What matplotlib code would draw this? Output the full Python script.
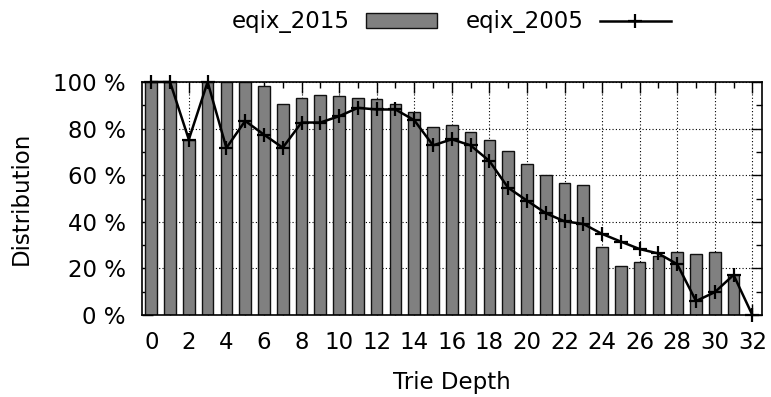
import numpy as np
import matplotlib.pyplot as plt
from matplotlib.ticker import MultipleLocator, FuncFormatter

# trie depth 0..32
depth = list(range(33))

# eqix_2015 distribution (%) per depth
eqix_2015 = [100, 100, 75.3, 100, 100, 100, 98.4, 90.4, 93.0, 94.3,
             94.0, 93.1, 92.8, 90.7, 87.1, 80.5, 81.6, 78.4, 75.0, 70.3,
             65.0, 59.9, 56.5, 55.9, 29.3, 21.1, 22.8, 25.4, 27.0, 26.3,
             26.9, 17.2, 0.0]

# eqix_2005 distribution (%) per depth
eqix_2005 = [100, 100, 75.3, 100, 71.7, 83.3, 77.4, 71.8, 82.6, 82.6,
             85.3, 88.9, 88.2, 88.2, 83.6, 72.8, 75.4, 72.8, 66.1, 54.6,
             49.1, 43.7, 40.2, 39.1, 34.8, 31.5, 28.3, 26.4, 21.8, 6.0,
             9.8, 17.2, 0.0]

FS = 16.5
plt.rcParams['font.family'] = 'DejaVu Sans'
plt.rcParams['font.size'] = FS

fig = plt.figure(figsize=(7.71, 3.97), dpi=100)
ax = fig.add_axes([0.184, 0.2065, 0.804, 0.587])

bars = ax.bar(depth, eqix_2015, width=0.62, color='#808080',
              edgecolor='#111111', linewidth=1.0, zorder=2,
              label='eqix_2015')
line, = ax.plot(depth, eqix_2005, color='black', linewidth=1.8,
                marker='+', markersize=10, markeredgewidth=1.6,
                clip_on=False, zorder=4, label='eqix_2005')

ax.set_xlim(-0.5, 32.5)
ax.set_ylim(0, 100)

ax.xaxis.set_major_locator(MultipleLocator(2))
ax.xaxis.set_minor_locator(MultipleLocator(1))
ax.yaxis.set_major_locator(MultipleLocator(20))
ax.yaxis.set_minor_locator(MultipleLocator(10))
ax.yaxis.set_major_formatter(FuncFormatter(lambda v, p: f'{int(v)} %'))

ax.tick_params(which='both', direction='in', top=True, right=True,
               width=1.0, labelsize=FS)
ax.tick_params(which='major', length=8, pad=11.5)
ax.tick_params(which='minor', length=4)

ax.grid(True, which='major', linestyle=(0, (1, 2)), color='black',
        linewidth=0.8, zorder=0)
ax.set_axisbelow(True)
for sp in ax.spines.values():
    sp.set_linewidth(1.2)

ax.set_xlabel('Trie Depth', fontsize=FS, labelpad=12)
ax.set_ylabel('Distribution', fontsize=FS, labelpad=15)

fig.legend(handles=[bars, line], labels=['eqix_2015', 'eqix_2005'],
           loc='center', bbox_to_anchor=(0.5856, 0.945), ncol=2,
           markerfirst=False, frameon=False, fontsize=FS,
           handlelength=3.1, handleheight=0.6, handletextpad=0.7,
           columnspacing=1.25, numpoints=1, borderaxespad=0)

fig.savefig('out.png', dpi=100)
